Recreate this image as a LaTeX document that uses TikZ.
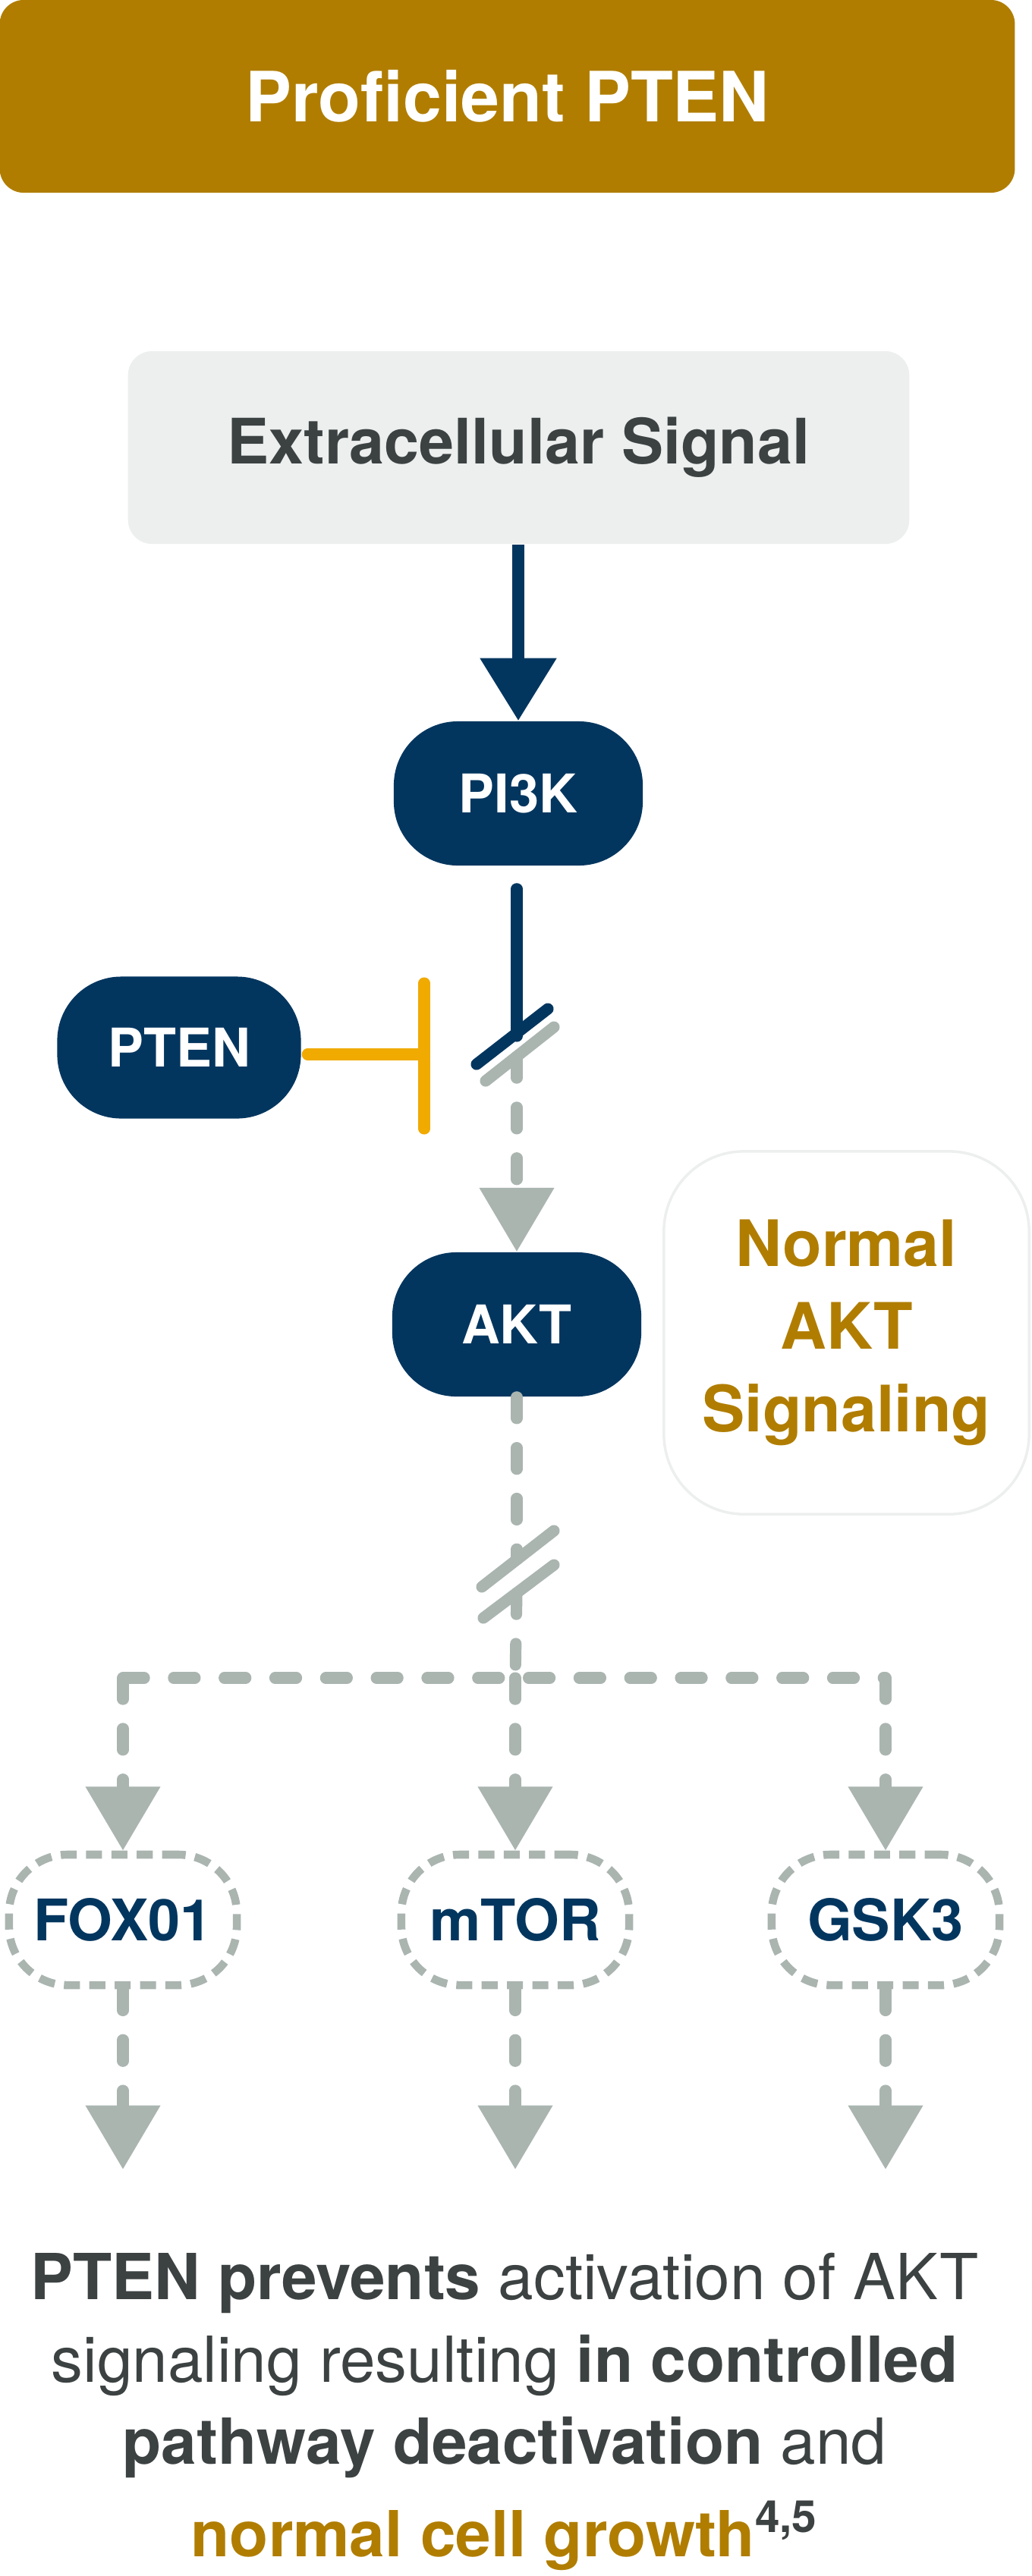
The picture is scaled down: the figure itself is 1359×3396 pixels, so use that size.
\documentclass[tikz,border=0pt]{standalone}
\usepackage{fontspec}
\setmainfont{TeX Gyre Heros}
\usetikzlibrary{arrows.meta, positioning}
\definecolor{ptgold}{RGB}{176,125,0}
\definecolor{ptnavy}{RGB}{3,54,95}
\definecolor{ptgray}{RGB}{170,181,176}
\definecolor{ptyellow}{RGB}{240,170,0}
\definecolor{ptlight}{RGB}{236,239,238}
\definecolor{ptdark}{RGB}{60,65,66}

\begin{document}
\begin{tikzpicture}[x=0.01cm, y=-0.01cm,
  pill/.style={rounded corners=24pt, fill=ptnavy, text=white, font=\fontsize{20}{24}\selectfont\bfseries,
               minimum width=3.28cm, minimum height=1.9cm, inner sep=0pt},
  target/.style={rounded corners=22pt, draw=ptgray, line width=3pt, dash pattern=on 6pt off 3.5pt,
                 fill=white, text=ptnavy, font=\fontsize{21.5}{24}\selectfont\bfseries,
                 minimum width=3.0cm, minimum height=1.72cm, inner sep=0pt},
  flow/.style={ptgray, line width=4.3pt, line cap=round, dash pattern=on 8pt off 11pt,
               -{Triangle[width=27pt, length=24pt]}},
  cut/.style={line width=4.3pt, line cap=round}]
  \useasboundingbox (0,0) rectangle (1359,3396);

  % Header
  \node[fill=ptgold, rounded corners=9pt, minimum width=13.37cm, minimum height=2.54cm,
        text=white, font=\fontsize{26}{30}\selectfont\bfseries] (head) at (668.5,127) {Proficient PTEN};

  % Signal box
  \node[fill=ptlight, rounded corners=9pt, minimum width=10.29cm, minimum height=2.54cm,
        text=ptdark, font=\fontsize{23.5}{28}\selectfont\bfseries] (ext) at (683.5,590) {Extracellular Signal};

  % Pathway nodes
  \node[pill] (pik) at (683,1046) {PI3K};
  \node[pill, minimum width=3.21cm, minimum height=1.87cm] (pten) at (236,1381) {PTEN};
  \node[pill] (akt) at (681,1746) {AKT};

  \node[rounded corners=30pt, draw=ptlight, line width=1pt, minimum width=4.81cm, minimum height=4.78cm,
        align=center, text=ptgold, font=\fontsize{24}{31}\selectfont\bfseries] (note) at (1115.5,1757)
        {Normal\\AKT\\Signaling};

  % Targets
  \node[target] (fox) at (162,2531) {FOX01};
  \node[target] (mtor) at (679,2531) {mTOR};
  \node[target] (gsk) at (1167,2531) {GSK3};

  % Activation
  \draw[ptnavy, line width=4.8pt, -{Triangle[width=27.5pt, length=23.5pt]}] (ext.south -| pik) -- (pik);

  % Blocked step
  \coordinate (cutA) at (681,1366);
  \coordinate (cutB) at (681,1393);
  \draw[ptnavy, line width=4.3pt, line cap=round] (cutA |- pik.south) ++(0,30) -- (cutA);
  \draw[ptnavy, cut] (628,1403) -- (722,1330);
  \draw[ptgray, cut] (640,1425) -- (730,1354);
  \draw[ptyellow, line width=4.3pt, line cap=round] (pten.east) ++(8,9) -- (559,1390);
  \draw[ptyellow, line width=4.3pt, line cap=round] (559,1296) -- (559,1488);
  \draw[flow] (cutB) -- (akt);

  % Break below AKT
  \coordinate (brkA) at (681,2056);
  \coordinate (brkB) at (681,2100);
  \coordinate (split) at (679,2212);
  \draw[ptgray, line width=4.3pt, line cap=round, dash pattern=on 8pt off 11pt] (akt.south) -- (brkA);
  \draw[ptgray, cut] (635,2092) -- (730,2018);
  \draw[ptgray, cut] (637,2133) -- (730,2063);
  \draw[ptgray, line width=4.3pt, line cap=round, dash pattern=on 8pt off 11pt] (brkB) -- (split);
  \draw[ptgray, line width=4.3pt, line cap=round, dash pattern=on 8pt off 11pt]
    (fox.north |- split) -- (gsk.north |- split);

  \draw[flow] (split) -- (mtor);
  \draw[flow] (fox.north |- split) -- (fox);
  \draw[flow] (gsk.north |- split) -- (gsk);

  % Outputs
  \coordinate (outF) at (162,2860);
  \coordinate (outM) at (679,2860);
  \coordinate (outG) at (1167,2860);
  \draw[flow] (fox) -- (outF);
  \draw[flow] (mtor) -- (outM);
  \draw[flow] (gsk) -- (outG);

  % Summary
  \node[align=center, text=ptdark, font=\fontsize{23.8}{30.8}\selectfont, anchor=north] (sum) at (665,2958)
    {\textbf{PTEN prevents} activation of AKT\\
     signaling resulting \textbf{in controlled}\\
     \textbf{pathway deactivation} and\\[4pt]
     \textcolor{ptgold}{\textbf{normal cell growth}}\textbf{\textsuperscript{4,5}}};
\end{tikzpicture}
\end{document}
